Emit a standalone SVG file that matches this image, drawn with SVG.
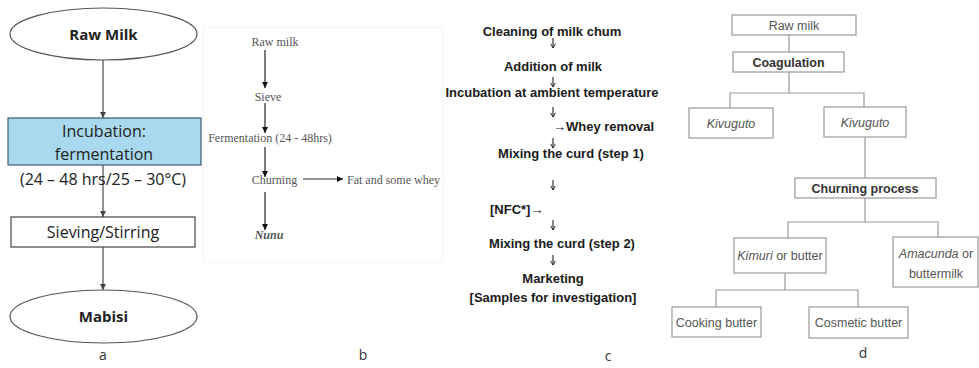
<svg xmlns="http://www.w3.org/2000/svg" width="979" height="368" viewBox="0 0 979 368">
  <defs>
    <marker id="headA" viewBox="0 0 10 10" refX="10" refY="5" markerWidth="6" markerHeight="6" markerUnits="userSpaceOnUse" orient="auto">
      <path d="M0,0 L10,5 L0,10 z" fill="#444"/>
    </marker>
    <marker id="headB" viewBox="0 0 10 10" refX="10" refY="5" markerWidth="7" markerHeight="6" markerUnits="userSpaceOnUse" orient="auto">
      <path d="M0,0 L10,5 L0,10 z" fill="#111"/>
    </marker>
    <marker id="headC" viewBox="0 0 10 10" refX="9" refY="5" markerWidth="6" markerHeight="6" markerUnits="userSpaceOnUse" orient="auto">
      <path d="M2,1 L9,5 L2,9" fill="none" stroke="#222" stroke-width="1.6"/>
    </marker>
    <style>
      .fa { font-family: "Open Sans", "Noto Sans", "Liberation Sans", sans-serif; fill: #222; }
      .fb { font-family: "Liberation Serif", "Times New Roman", serif; font-size: 12px; fill: #555; }
      .fc { font-family: "Liberation Sans", Arial, sans-serif; font-size: 13px; font-weight: bold; fill: #1a1a1a; }
      .fd { font-family: "Liberation Sans", Arial, sans-serif; font-size: 12.5px; fill: #555; }
      .fdb { font-weight: bold; fill: #333; }
      .lab { font-family: "Open Sans", "Liberation Sans", sans-serif; font-size: 14px; fill: #333; }
      .linkA { stroke: #555; stroke-width: 1.3; fill: none; marker-end: url(#headA); }
      .linkB { stroke: #222; stroke-width: 1.2; fill: none; marker-end: url(#headB); }
      .linkC { stroke: #222; stroke-width: 1.1; fill: none; marker-end: url(#headC); }
      .linkD { stroke: #9a9a9a; stroke-width: 1.2; fill: none; }
      .boxD { fill: #fff; stroke: #999; stroke-width: 1.2; }
    </style>
  </defs>

  <rect width="979" height="368" fill="#fff"/>

  <!-- faint panel frame of flow b -->
  <rect x="203" y="27" width="240" height="235" fill="none" stroke="#f5f5f5" stroke-width="1"/>

  <!-- connectors -->
  <g id="connectors">
    <!-- flow a -->
    <line class="linkA" x1="103" y1="60" x2="103" y2="118"/>
    <line class="linkA" x1="103" y1="165" x2="103" y2="217"/>
    <line class="linkA" x1="103" y1="247" x2="103" y2="290"/>
    <!-- flow b -->
    <line class="linkB" x1="265" y1="50" x2="265" y2="88"/>
    <line class="linkB" x1="265" y1="103" x2="265" y2="133"/>
    <line class="linkB" x1="265" y1="147" x2="265" y2="177"/>
    <line class="linkB" x1="303" y1="179" x2="343" y2="179"/>
    <line class="linkB" x1="265" y1="192" x2="265" y2="230"/>
    <!-- flow c (short down arrows) -->
    <line class="linkC" x1="553" y1="38" x2="553" y2="48"/>
    <line class="linkC" x1="553" y1="77" x2="553" y2="87"/>
    <line class="linkC" x1="553" y1="107" x2="553" y2="117"/>
    <line class="linkC" x1="553" y1="138" x2="553" y2="148"/>
    <line class="linkC" x1="553" y1="180" x2="553" y2="190"/>
    <line class="linkC" x1="553" y1="220" x2="553" y2="230"/>
    <line class="linkC" x1="553" y1="255" x2="553" y2="265"/>
    <!-- flow d (tree) -->
    <path class="linkD" d="M789,35 V52"/>
    <path class="linkD" d="M789,72 V93 M730,108 V93 H864 V107"/>
    <path class="linkD" d="M865,137 V178"/>
    <path class="linkD" d="M865,198 V222 M788,238 V222 H938 V237"/>
    <path class="linkD" d="M785,273 V290 M716,307 V290 H858 V307"/>
  </g>

  <!-- flow a -->
  <g id="a-rawmilk">
    <ellipse cx="103.5" cy="34" rx="93.5" ry="26" fill="#fff" stroke="#555" stroke-width="1.2"/>
    <text class="fa" x="103.5" y="39.5" font-size="15" font-weight="bold" text-anchor="middle">Raw Milk</text>
  </g>
  <g id="a-incubation">
    <rect x="8" y="118" width="193" height="47" fill="#a8d9ee" stroke="#3d5a73" stroke-width="1.2"/>
    <text class="fa" x="104" y="137" font-size="16" text-anchor="middle">Incubation:</text>
    <text class="fa" x="104" y="160" font-size="16" text-anchor="middle">fermentation</text>
    <text class="fa" x="103" y="185" font-size="16" text-anchor="middle">(24 – 48 hrs/25 – 30°C)</text>
  </g>
  <g id="a-sieving">
    <rect x="11" y="217" width="184" height="30" fill="#fff" stroke="#444" stroke-width="1.2"/>
    <text class="fa" x="103" y="237.5" font-size="16" text-anchor="middle">Sieving/Stirring</text>
  </g>
  <g id="a-mabisi">
    <ellipse cx="103.5" cy="316.5" rx="93.5" ry="26.5" fill="#fff" stroke="#555" stroke-width="1.2"/>
    <text class="fa" x="103.5" y="322" font-size="15" font-weight="bold" text-anchor="middle">Mabisi</text>
  </g>
  <text class="lab" x="103" y="360" text-anchor="middle">a</text>

  <!-- flow b -->
  <g id="b-rawmilk"><text class="fb" x="275" y="46" text-anchor="middle">Raw milk</text></g>
  <g id="b-sieve"><text class="fb" x="268" y="101" text-anchor="middle">Sieve</text></g>
  <g id="b-fermentation"><text class="fb" x="270" y="142" text-anchor="middle">Fermentation (24 - 48hrs)</text></g>
  <g id="b-churning"><text class="fb" x="274.5" y="183.5" text-anchor="middle">Churning</text></g>
  <g id="b-fat"><text class="fb" x="347" y="183.5">Fat and some whey</text></g>
  <g id="b-nunu"><text class="fb" x="269" y="239" text-anchor="middle" font-style="italic" font-weight="bold" fill="#333">Nunu</text></g>
  <text class="lab" x="363" y="360" text-anchor="middle">b</text>

  <!-- flow c -->
  <g id="c-cleaning"><text class="fc" x="552" y="36" text-anchor="middle">Cleaning of milk chum</text></g>
  <g id="c-addition"><text class="fc" x="553" y="71" text-anchor="middle">Addition of milk</text></g>
  <g id="c-incubation"><text class="fc" x="552" y="97" text-anchor="middle">Incubation at ambient temperature</text></g>
  <g id="c-whey"><text class="fc" x="553" y="131">→Whey removal</text></g>
  <g id="c-mixing1"><text class="fc" x="571" y="158" text-anchor="middle">Mixing the curd (step 1)</text></g>
  <g id="c-nfc"><text class="fc" x="490" y="214">[NFC*]→</text></g>
  <g id="c-mixing2"><text class="fc" x="562" y="247.5" text-anchor="middle">Mixing the curd (step 2)</text></g>
  <g id="c-marketing">
    <text class="fc" x="553" y="282.5" text-anchor="middle">Marketing</text>
    <text class="fc" x="553" y="301.5" text-anchor="middle">[Samples for investigation]</text>
  </g>
  <text class="lab" x="608" y="361" text-anchor="middle">c</text>

  <!-- flow d -->
  <g id="d-rawmilk">
    <rect class="boxD" x="732" y="15" width="124" height="20"/>
    <text class="fd" x="794" y="29.5" text-anchor="middle">Raw milk</text>
  </g>
  <g id="d-coagulation">
    <rect class="boxD" x="733" y="52" width="111" height="20"/>
    <text class="fd fdb" x="788.5" y="66.5" text-anchor="middle">Coagulation</text>
  </g>
  <g id="d-kivuguto1">
    <rect class="boxD" x="689" y="108" width="84" height="30"/>
    <text class="fd" x="731" y="127.5" text-anchor="middle" font-style="italic">Kivuguto</text>
  </g>
  <g id="d-kivuguto2">
    <rect class="boxD" x="824" y="107" width="82" height="30"/>
    <text class="fd" x="865" y="126.5" text-anchor="middle" font-style="italic">Kivuguto</text>
  </g>
  <g id="d-churning">
    <rect class="boxD" x="795" y="178" width="141" height="20"/>
    <text class="fd fdb" x="865" y="192.5" text-anchor="middle">Churning process</text>
  </g>
  <g id="d-kimuri">
    <rect class="boxD" x="734" y="238" width="92" height="35"/>
    <text class="fd" x="780" y="259.5" text-anchor="middle"><tspan font-style="italic">Kimuri</tspan> or butter</text>
  </g>
  <g id="d-amacunda">
    <rect class="boxD" x="893" y="237" width="85" height="50"/>
    <text class="fd" x="936" y="257.5" text-anchor="middle"><tspan font-style="italic">Amacunda</tspan> or</text>
    <text class="fd" x="936" y="277.5" text-anchor="middle">buttermilk</text>
  </g>
  <g id="d-cooking">
    <rect class="boxD" x="672" y="307" width="89" height="30"/>
    <text class="fd" x="716.5" y="326.5" text-anchor="middle">Cooking butter</text>
  </g>
  <g id="d-cosmetic">
    <rect class="boxD" x="809" y="307" width="99" height="31"/>
    <text class="fd" x="858.5" y="327" text-anchor="middle">Cosmetic butter</text>
  </g>
  <text class="lab" x="863" y="358" text-anchor="middle">d</text>
</svg>
